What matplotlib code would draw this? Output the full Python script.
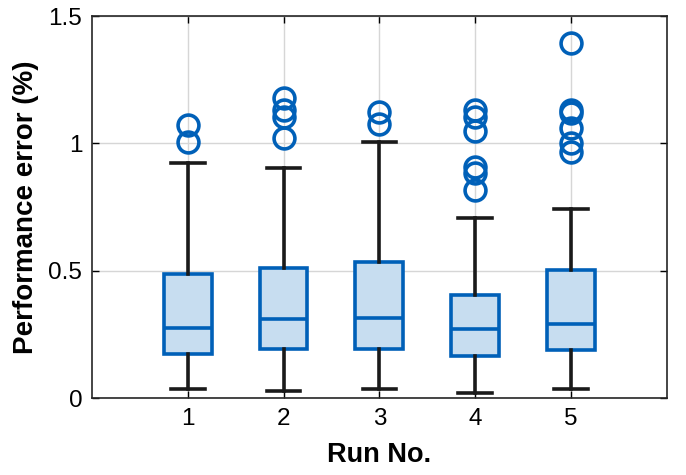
import matplotlib.pyplot as plt

# run numbers on the x axis
runs = [1, 2, 3, 4, 5]

# box statistics (performance error in %)
whisker_low = [0.034, 0.029, 0.037, 0.021, 0.037]
q1 = [0.173, 0.191, 0.191, 0.165, 0.188]
median = [0.274, 0.309, 0.313, 0.271, 0.291]
q3 = [0.486, 0.509, 0.535, 0.404, 0.503]
whisker_high = [0.923, 0.902, 1.004, 0.708, 0.743]
outliers = [
    [1.072, 1.006],
    [1.177, 1.131, 1.104, 1.020],
    [1.122, 1.076],
    [1.131, 1.104, 1.049, 0.908, 0.882, 0.819],
    [1.396, 1.131, 1.118, 1.059, 1.000, 0.967],
]

plt.rcParams['font.family'] = ['Liberation Sans', 'DejaVu Sans']

stats = []
for i in range(len(runs)):
    stats.append({
        'whislo': whisker_low[i], 'q1': q1[i], 'med': median[i],
        'q3': q3[i], 'whishi': whisker_high[i], 'fliers': outliers[i],
    })

blue = '#0060B8'
fig = plt.figure(figsize=(6.86, 4.75), dpi=100)
ax = fig.add_axes([0.134, 0.162, 0.838, 0.804])
ax.bxp(stats, positions=runs, widths=0.5, patch_artist=True,
       boxprops=dict(facecolor='#C7DDF0', edgecolor=blue, linewidth=2.6),
       medianprops=dict(color=blue, linewidth=2.6),
       whiskerprops=dict(color='#1a1a1a', linewidth=2.6),
       capprops=dict(color='#1a1a1a', linewidth=2.6),
       capwidths=0.35,
       flierprops=dict(marker='o', markersize=15, markerfacecolor='none',
                       markeredgecolor=blue, markeredgewidth=2.6),
       zorder=3)

ax.set_xlim(0, 6)
ax.set_ylim(0, 1.5)
ax.set_xticks(runs)
ax.set_xticklabels([str(r) for r in runs])
ax.set_yticks([0, 0.5, 1, 1.5])
ax.set_yticklabels(['0', '0.5', '1', '1.5'])
ax.grid(True, color='#d6d6d6', linewidth=1)
ax.set_axisbelow(True)
ax.tick_params(direction='in', top=True, right=True, labelsize=17.5,
               length=5, width=1, pad=7)
for s in ax.spines.values():
    s.set_linewidth(1.2)
    s.set_color('#262626')
ax.set_xlabel('Run No.', fontsize=19.5, fontweight='bold', labelpad=9)
ax.set_ylabel('Performance error (%)', fontsize=20, fontweight='bold', labelpad=7)

fig.savefig('out.png', dpi=100)
